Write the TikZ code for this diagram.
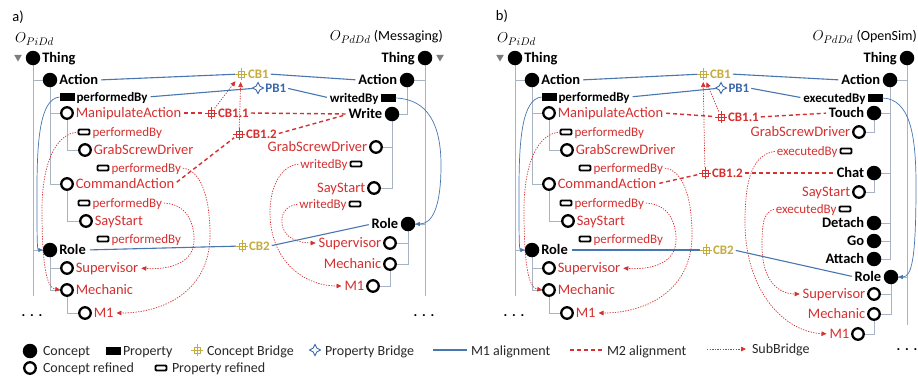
\documentclass[tikz,border=0pt]{standalone}
\usepackage{fontspec}
\setmainfont{Carlito}
\usetikzlibrary{arrows.meta,shapes.geometric}

\definecolor{refred}{RGB}{214,48,48}
\definecolor{cbcol}{RGB}{196,172,62}
\definecolor{pbcol}{RGB}{58,104,168}
\definecolor{mone}{RGB}{72,118,176}
\definecolor{treecol}{RGB}{168,180,196}
\definecolor{trigray}{RGB}{125,125,125}
\definecolor{legtext}{RGB}{40,40,40}

\pgfdeclarelayer{paper}
\pgfdeclarelayer{bg}
\pgfsetlayers{paper,bg,main}

\tikzset{
  cpt/.style={circle, fill=black, minimum size=14.5pt, inner sep=0pt, outer sep=0pt},
  cptR/.style={circle, draw=black, fill=white, line width=2.3pt, minimum size=11.5pt, inner sep=0pt, outer sep=0pt},
  prop/.style={rectangle, fill=black, minimum width=15pt, minimum height=8pt, inner sep=0pt, outer sep=0pt},
  propR/.style={rectangle, draw=black, fill=white, line width=1.9pt, rounded corners=1pt, minimum width=11pt, minimum height=5pt, inner sep=0pt, outer sep=0pt},
  tri/.style={regular polygon, regular polygon sides=3, shape border rotate=180, fill=trigray, minimum size=9pt, inner sep=0pt},
  txt/.style={inner sep=0pt, outer sep=0pt, text height=9pt, text depth=0pt, font=\fontsize{14.5}{16}\selectfont},
  clab/.style={txt, font=\fontsize{14.5}{16}\selectfont\bfseries},
  plab/.style={txt, text height=8.4pt, font=\fontsize{13}{15}\selectfont\bfseries},
  rlab/.style={txt, text=refred},
  rplab/.style={txt, text=refred, text height=8.4pt, font=\fontsize{13}{15}\selectfont},
  blab/.style={txt, text height=8.4pt, font=\fontsize{13}{15}\selectfont\bfseries, text=#1},
  legt/.style={txt, text=legtext, anchor=west, font=\fontsize{14}{16}\selectfont},
  dotsn/.style={inner sep=0pt, anchor=base, font=\fontsize{14}{16}\selectfont\bfseries},
  cbr/.style={circle, minimum size=12pt, inner sep=0pt, outer sep=0pt, fill=white,
    path picture={
      \draw[#1, line width=0.8pt] ([shift={(-3pt,-3pt)}]path picture bounding box.center) rectangle ([shift={(3pt,3pt)}]path picture bounding box.center);
      \draw[#1, line width=0.8pt] ([xshift=-6pt]path picture bounding box.center) -- ([xshift=6pt]path picture bounding box.center)
        ([yshift=-6pt]path picture bounding box.center) -- ([yshift=6pt]path picture bounding box.center);
    }},
  pbr/.style={star, star points=4, star point ratio=2.1, draw=pbcol, fill=white, line width=0.9pt, minimum size=11pt, inner sep=0pt},
  treeln/.style={draw=treecol, line width=0.7pt},
  mline/.style={draw=mone, line width=1.1pt},
  mtwo/.style={draw=refred, line width=1.4pt, dash pattern=on 4pt off 3pt},
  rdot/.style={draw=refred, line width=0.7pt, dash pattern=on 1.3pt off 1.3pt, -{Triangle[length=5pt,width=4.5pt]}},
  bcur/.style={draw=mone, line width=0.7pt, -{Triangle[length=4.5pt,width=4pt]}},
}

% source ontology tree (left half of each panel)
\newcommand\srctree[1]{%
  \node[tri] (#1tri) at (18,57) {};
  \node[cpt] (#1thing) at (33,58) {};
  \node[cpt] (#1action) at (50,80) {};
  \node[prop] (#1perf) at (67,97) {};
  \node[cptR] (#1manip) at (67,113) {};
  \node[propR] (#1perfa) at (84,132) {};
  \node[cptR] (#1grab) at (85,150) {};
  \node[propR] (#1perfb) at (103,168) {};
  \node[cptR] (#1cmd) at (67,184) {};
  \node[propR] (#1perfc) at (84,203) {};
  \node[cptR] (#1say) at (86,221) {};
  \node[propR] (#1perfd) at (103,239) {};
  \node[cpt] (#1role) at (50,250) {};
  \node[cptR] (#1sup) at (67,268) {};
  \node[cptR] (#1mech) at (67,290) {};
  \node[cptR] (#1mone) at (85,313) {};
  \coordinate (#1end) at (33,296);
  \node[dotsn] (#1dots) at (32,316) {.\,\,.\,\,.};
  \node[anchor=west, inner sep=0pt, font=\fontsize{15}{18}\selectfont] (#1onto) at (15,39) {$O_{PiDd}$};
  % labels
  \node[clab, anchor=west] (#1thingL) at ([xshift=2pt]#1thing.east) {Thing};
  \node[clab, anchor=west] (#1actionL) at ([xshift=2pt]#1action.east) {Action};
  \node[plab, anchor=west] (#1perfL) at ([xshift=2pt]#1perf.east) {performedBy};
  \node[rlab, anchor=west] (#1manipL) at ([xshift=3pt]#1manip.east) {ManipulateAction};
  \node[rplab, anchor=west] (#1perfaL) at ([xshift=3pt]#1perfa.east) {performedBy};
  \node[rlab, anchor=west] (#1grabL) at ([xshift=3pt]#1grab.east) {GrabScrewDriver};
  \node[rplab, anchor=west] (#1perfbL) at ([xshift=3pt]#1perfb.east) {performedBy};
  \node[rlab, anchor=west] (#1cmdL) at ([xshift=3pt]#1cmd.east) {CommandAction};
  \node[rplab, anchor=west] (#1perfcL) at ([xshift=3pt]#1perfc.east) {performedBy};
  \node[rlab, anchor=west] (#1sayL) at ([xshift=3pt]#1say.east) {SayStart};
  \node[rplab, anchor=west] (#1perfdL) at ([xshift=3pt]#1perfd.east) {performedBy};
  \node[clab, anchor=west] (#1roleL) at ([xshift=2pt]#1role.east) {Role};
  \node[rlab, anchor=west] (#1supL) at ([xshift=3pt]#1sup.east) {Supervisor};
  \node[rlab, anchor=west] (#1mechL) at ([xshift=3pt]#1mech.east) {Mechanic};
  \node[rlab, anchor=west] (#1moneL) at ([xshift=3pt]#1mone.east) {M1};
  % hierarchy lines
  \begin{pgfonlayer}{bg}
    \draw[treeln] (#1thing) -- (#1end);
    \draw[treeln] (#1thing |- #1action) -- (#1action);
    \draw[treeln] (#1thing |- #1role) -- (#1role);
    \draw[treeln] (#1action) |- (#1manip);
    \draw[treeln] (#1action) |- (#1cmd);
    \draw[treeln] (#1manip) |- (#1grab);
    \draw[treeln] (#1cmd) |- (#1say);
    \draw[treeln] (#1role) |- (#1sup);
    \draw[treeln] (#1role) |- (#1mech);
    \draw[treeln] (#1mech) |- (#1mone);
  \end{pgfonlayer}
  % property range (M1) and refined ranges
  \draw[bcur] (#1perf.west) .. controls (40,99) and (37,140) .. (37,190) .. controls (37,236) and (37,250) .. (#1role.west);
  \draw[rdot, shorten >=1pt] (#1perfa.west) .. controls (55,133) and (42,165) .. (42,210) .. controls (42,262) and (46,288) .. (#1mech.west);
  \draw[rdot, shorten <=2pt, shorten >=3pt] (#1perfbL.east) .. controls (200,170) and (210,195) .. (210,235) .. controls (210,290) and (165,313) .. (#1moneL.east);
  \draw[rdot, shorten <=2pt, shorten >=3pt] (#1perfcL.east) .. controls (185,204) and (194,220) .. (194,240) .. controls (194,262) and (172,270) .. (#1supL.east);
}

\begin{document}
\begin{tikzpicture}[x=1pt, y=-1pt]
\begin{pgfonlayer}{paper}
  \fill[white] (0,0) rectangle (918,381);
\end{pgfonlayer}
\useasboundingbox (0,0) rectangle (918,381);

% ---------------- panel a ----------------
\node[txt, anchor=center] (aTag) at (18,17) {a)};
\srctree{aL}

% target ontology (Messaging)
\node[anchor=east, inner sep=0pt, font=\fontsize{15}{18}\selectfont] (aRonto) at (443,37) {$O_{PdDd}$ \fontsize{14}{16}\selectfont(Messaging)};
\node[tri] (aRtri) at (440,57) {};
\node[cpt] (aRthing) at (425,58) {};
\node[cpt] (aRaction) at (407,80) {};
\node[prop] (aRwb) at (388,98) {};
\node[cpt] (aRwrite) at (392,114) {};
\node[cptR] (aRgrab) at (376,147) {};
\node[propR] (aRwba) at (356,164) {};
\node[cptR] (aRsay) at (374,188) {};
\node[propR] (aRwbb) at (355,204) {};
\node[cpt] (aRrole) at (408,224) {};
\node[cptR] (aRsup) at (390,243) {};
\node[cptR] (aRmech) at (390,264) {};
\node[cptR] (aRmone) at (373,286) {};
\coordinate (aRend) at (425,296);
\node[dotsn] (aRdots) at (424,316) {.\,\,.\,\,.};

\node[clab, anchor=east] (aRthingL) at ([xshift=-3pt]aRthing.west) {Thing};
\node[clab, anchor=east] (aRactionL) at ([xshift=-2.5pt]aRaction.west) {Action};
\node[plab, anchor=east] (aRwbL) at ([xshift=-2pt]aRwb.west) {writedBy};
\node[clab, anchor=east] (aRwriteL) at ([xshift=-2.5pt]aRwrite.west) {Write};
\node[rlab, anchor=east] (aRgrabL) at ([xshift=-3pt]aRgrab.west) {GrabScrewDriver};
\node[rplab, anchor=east] (aRwbaL) at ([xshift=-3pt]aRwba.west) {writedBy};
\node[rlab, anchor=east] (aRsayL) at ([xshift=-3pt]aRsay.west) {SayStart};
\node[rplab, anchor=east] (aRwbbL) at ([xshift=-3pt]aRwbb.west) {writedBy};
\node[clab, anchor=east] (aRroleL) at ([xshift=-2.5pt]aRrole.west) {Role};
\node[rlab, anchor=east] (aRsupL) at ([xshift=-3pt]aRsup.west) {Supervisor};
\node[rlab, anchor=east] (aRmechL) at ([xshift=-3pt]aRmech.west) {Mechanic};
\node[rlab, anchor=east] (aRmoneL) at ([xshift=-3pt]aRmone.west) {M1};

\begin{pgfonlayer}{bg}
  \draw[treeln] (aRthing) -- (aRend);
  \draw[treeln] (aRthing |- aRaction) -- (aRaction);
  \draw[treeln] (aRthing |- aRrole) -- (aRrole);
  \draw[treeln] (aRaction) |- (aRwrite);
  \draw[treeln] (aRwrite) |- (aRgrab);
  \draw[treeln] (aRwrite) |- (aRsay);
  \draw[treeln] (aRrole) |- (aRsup);
  \draw[treeln] (aRrole) |- (aRmech);
  \draw[treeln] (aRmech) |- (aRmone);
\end{pgfonlayer}

\draw[bcur] (aRwb.east) .. controls (428,99) and (441,125) .. (441,165) .. controls (441,208) and (432,224) .. (aRrole.east);
\draw[rdot, shorten <=2pt, shorten >=3pt] (aRwbaL.west) .. controls (280,166) and (270,188) .. (270,212) .. controls (270,262) and (305,286) .. (aRmoneL.west);
\draw[rdot, shorten <=2pt, shorten >=3pt] (aRwbbL.west) .. controls (284,206) and (281,216) .. (282,224) .. controls (284,238) and (298,243) .. (aRsupL.west);

% bridges of panel a
\node[cbr=cbcol] (aCB1) at (241,74) {};
\node[blab=cbcol, anchor=west] (aCB1L) at ([xshift=1pt]aCB1.east) {CB1};
\node[pbr] (aPB1) at (258,88) {};
\node[blab=pbcol, anchor=west] (aPB1L) at ([xshift=1pt]aPB1.east) {PB1};
\node[cbr=refred] (aCB11) at (211,113) {};
\node[blab=refred, anchor=west] (aCB11L) at ([xshift=1pt]aCB11.east) {CB1.1};
\node[cbr=refred] (aCB12) at (239,134) {};
\node[blab=refred, anchor=west] (aCB12L) at ([xshift=1pt]aCB12.east) {CB1.2};
\node[cbr=cbcol] (aCB2) at (242,246) {};
\node[blab=cbcol, anchor=west] (aCB2L) at ([xshift=1pt]aCB2.east) {CB2};

\begin{pgfonlayer}{bg}
  \draw[mline, shorten <=3pt] (aLactionL.east) -- (aCB1);
  \draw[mline, shorten <=2pt, shorten >=3pt] (aCB1L.east) -- (aRactionL.west);
  \draw[mline, shorten <=3pt] (aLperfL.east) -- (aPB1);
  \draw[mline, shorten <=2pt, shorten >=3pt] (aPB1L.east) -- (aRwbL.west);
  \draw[mline, shorten <=4pt] (aLroleL.east) -- (aCB2);
  \draw[mline, shorten <=2pt, shorten >=3pt] (aCB2L.east) -- (aRroleL.west);
  \draw[mtwo, shorten <=3pt] (aLmanipL.east) -- (aCB11);
  \draw[mtwo, shorten <=2pt, shorten >=3pt] (aCB11L.east) -- (aRwriteL.west);
  \draw[mtwo, shorten <=3pt] (aLcmdL.east) -- (aCB12);
  \draw[mtwo, shorten <=2pt, shorten >=3pt] (aCB12L.east) -- (aRwriteL.west);
\end{pgfonlayer}
\draw[rdot, shorten >=3pt] (aCB11) -- (aCB1);
\draw[rdot, shorten >=2pt] (aCB12) -- (aCB1);

% ---------------- panel b ----------------
\node[txt, anchor=center] (bTag) at (502,16) {b)};
\begin{scope}[xshift=482pt]
  \srctree{bL}
\end{scope}

% target ontology (OpenSim)
\node[anchor=east, inner sep=0pt, font=\fontsize{15}{18}\selectfont] (bRonto) at (917,37) {$O_{PdDd}$ \fontsize{14}{16}\selectfont(OpenSim)};
\node[cpt] (bRthing) at (907,58) {};
\node[cpt] (bRaction) at (890,80) {};
\node[prop] (bRexec) at (875,98) {};
\node[cpt] (bRtouch) at (874,113) {};
\node[cptR] (bRgrab) at (859,132) {};
\node[propR] (bReba) at (846,151) {};
\node[cpt] (bRchat) at (874,173) {};
\node[cptR] (bRsay) at (859,192) {};
\node[propR] (bRebb) at (845,209) {};
\node[cpt] (bRdetach) at (874,223) {};
\node[cpt] (bRgo) at (874,241) {};
\node[cpt] (bRattach) at (874,259) {};
\node[cpt] (bRrole) at (891,277) {};
\node[cptR] (bRsup) at (874,294) {};
\node[cptR] (bRmech) at (874,314) {};
\node[cptR] (bRmone) at (858,334) {};
\coordinate (bRend) at (907,325);
\node[dotsn] (bRdots) at (907,350) {.\,\,.\,\,.};

\node[clab, anchor=east] (bRthingL) at ([xshift=-3pt]bRthing.west) {Thing};
\node[clab, anchor=east] (bRactionL) at ([xshift=-2.5pt]bRaction.west) {Action};
\node[plab, anchor=east] (bRexecL) at ([xshift=-2pt]bRexec.west) {executedBy};
\node[clab, anchor=east] (bRtouchL) at ([xshift=-2.5pt]bRtouch.west) {Touch};
\node[rlab, anchor=east] (bRgrabL) at ([xshift=-3pt]bRgrab.west) {GrabScrewDriver};
\node[rplab, anchor=east] (bRebaL) at ([xshift=-3pt]bReba.west) {executedBy};
\node[clab, anchor=east] (bRchatL) at ([xshift=-2.5pt]bRchat.west) {Chat};
\node[rlab, anchor=east] (bRsayL) at ([xshift=-3pt]bRsay.west) {SayStart};
\node[rplab, anchor=east] (bRebbL) at ([xshift=-3pt]bRebb.west) {executedBy};
\node[clab, anchor=east] (bRdetachL) at ([xshift=-2.5pt]bRdetach.west) {Detach};
\node[clab, anchor=east] (bRgoL) at ([xshift=-2.5pt]bRgo.west) {Go};
\node[clab, anchor=east] (bRattachL) at ([xshift=-2.5pt]bRattach.west) {Attach};
\node[clab, anchor=east] (bRroleL) at ([xshift=-2.5pt]bRrole.west) {Role};
\node[rlab, anchor=east] (bRsupL) at ([xshift=-3pt]bRsup.west) {Supervisor};
\node[rlab, anchor=east] (bRmechL) at ([xshift=-3pt]bRmech.west) {Mechanic};
\node[rlab, anchor=east] (bRmoneL) at ([xshift=-3pt]bRmone.west) {M1};

\begin{pgfonlayer}{bg}
  \draw[treeln] (bRthing) -- (bRend);
  \draw[treeln] (bRthing |- bRaction) -- (bRaction);
  \draw[treeln] (bRthing |- bRrole) -- (bRrole);
  \draw[treeln] (bRaction) |- (bRtouch);
  \draw[treeln] (bRaction) |- (bRchat);
  \draw[treeln] (bRaction) |- (bRdetach);
  \draw[treeln] (bRaction) |- (bRgo);
  \draw[treeln] (bRaction) |- (bRattach);
  \draw[treeln] (bRtouch) |- (bRgrab);
  \draw[treeln] (bRchat) |- (bRsay);
  \draw[treeln] (bRrole) |- (bRsup);
  \draw[treeln] (bRrole) |- (bRmech);
  \draw[treeln] (bRmech) |- (bRmone);
\end{pgfonlayer}

\draw[bcur] (bRexec.east) .. controls (910,99) and (916,135) .. (916,185) .. controls (916,258) and (912,277) .. (bRrole.east);
\draw[rdot, shorten <=2pt, shorten >=3pt] (bRebaL.west) .. controls (752,155) and (745,180) .. (745,222) .. controls (745,292) and (785,332) .. (bRmoneL.west);
\draw[rdot, shorten <=2pt, shorten >=3pt] (bRebbL.west) .. controls (763,212) and (762,226) .. (762,246) .. controls (762,280) and (778,294) .. (bRsupL.west);

% bridges of panel b
\node[cbr=cbcol] (bCB1) at (703,74) {};
\node[blab=cbcol, anchor=west] (bCB1L) at ([xshift=1pt]bCB1.east) {CB1};
\node[pbr] (bPB1) at (721,88) {};
\node[blab=pbcol, anchor=west] (bPB1L) at ([xshift=1pt]bPB1.east) {PB1};
\node[cbr=refred] (bCB11) at (721,117) {};
\node[blab=refred, anchor=west] (bCB11L) at ([xshift=1pt]bCB11.east) {CB1.1};
\node[cbr=refred] (bCB12) at (705,173) {};
\node[blab=refred, anchor=west] (bCB12L) at ([xshift=1pt]bCB12.east) {CB1.2};
\node[cbr=cbcol] (bCB2) at (706,250) {};
\node[blab=cbcol, anchor=west] (bCB2L) at ([xshift=1pt]bCB2.east) {CB2};

\begin{pgfonlayer}{bg}
  \draw[mline, shorten <=3pt] (bLactionL.east) -- (bCB1);
  \draw[mline, shorten <=2pt, shorten >=3pt] (bCB1L.east) -- (bRactionL.west);
  \draw[mline, shorten <=3pt] (bLperfL.east) -- (bPB1);
  \draw[mline, shorten <=2pt, shorten >=3pt] (bPB1L.east) -- (bRexecL.west);
  \draw[mline, shorten <=4pt] (bLroleL.east) -- (bCB2);
  \draw[mline, shorten <=2pt, shorten >=3pt] (bCB2L.east) -- (bRroleL.west);
  \draw[mtwo, shorten <=3pt] (bLmanipL.east) -- (bCB11);
  \draw[mtwo, shorten <=2pt, shorten >=3pt] (bCB11L.east) -- (bRtouchL.west);
  \draw[mtwo, shorten <=3pt] (bLcmdL.east) -- (bCB12);
  \draw[mtwo, shorten <=2pt, shorten >=3pt] (bCB12L.east) -- (bRchatL.west);
\end{pgfonlayer}
\draw[rdot, shorten >=3pt] (bCB11) -- (bCB1);
\draw[rdot, shorten >=2pt] (bCB12) -- (bCB1);

% ---------------- legend ----------------
\node[cpt] (lgC) at (30,351) {};
\node[legt] (lgCt) at (43,351) {Concept};
\node[prop] (lgP) at (113,351) {};
\node[legt] (lgPt) at (123,351) {Property};
\node[cbr=cbcol] (lgCB) at (197,350) {};
\node[legt] (lgCBt) at (207,351) {Concept Bridge};
\node[pbr] (lgPB) at (315,350) {};
\node[legt] (lgPBt) at (325,351) {Property Bridge};
\coordinate (lgMa) at (433,350);
\coordinate (lgMb) at (467,350);
\draw[mline] (lgMa) -- (lgMb);
\node[legt] (lgMt) at (471,351) {M1 alignment};
\coordinate (lgNa) at (570,350);
\coordinate (lgNb) at (604,350);
\draw[mtwo] (lgNa) -- (lgNb);
\node[legt] (lgNt) at (607,351) {M2 alignment};
\coordinate (lgSa) at (707,349);
\coordinate (lgSb) at (746,349);
\draw[rdot] (lgSa) -- (lgSb);
\node[legt] (lgSt) at (752,349) {SubBridge};
\node[cptR] (lgCR) at (30,368) {};
\node[legt] (lgCRt) at (43,368) {Concept refined};
\node[propR] (lgPR) at (161,368) {};
\node[legt] (lgPRt) at (172,368) {Property refined};
\end{tikzpicture}
\end{document}
